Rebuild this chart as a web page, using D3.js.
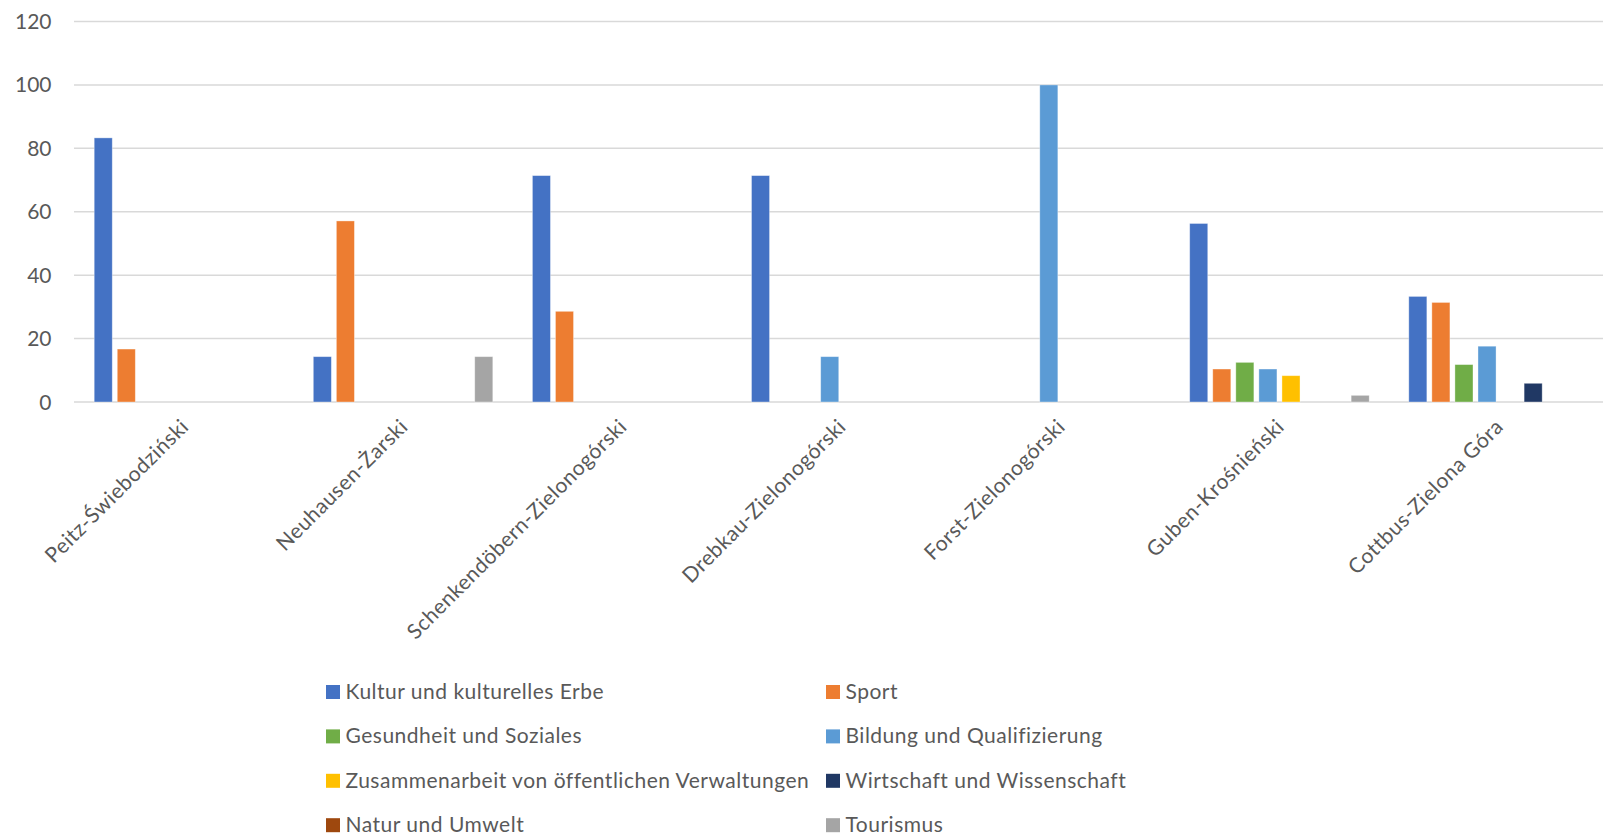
<!DOCTYPE html>
<html>
<head>
<meta charset="utf-8">
<script src="https://cdn.jsdelivr.net/npm/d3@7"></script>
<style>
  html, body { margin: 0; padding: 0; background: #ffffff; }
  svg { display: block; }
  text { font-family: Lato, "Open Sans", sans-serif; fill: #595959; }
</style>
</head>
<body>
<svg id="chart" width="1603" height="840"></svg>
<script>
// Partnership categories (x axis)
const categories = [
  "Peitz-Świebodziński",
  "Neuhausen-Żarski",
  "Schenkendöbern-Zielonogórski",
  "Drebkau-Zielonogórski",
  "Forst-Zielonogórski",
  "Guben-Krośnieński",
  "Cottbus-Zielona Góra"
];

// Share of projects per theme (%)
const kultur         = [83.3, 14.3, 71.4, 71.4, 0,   56.3, 33.3];
const sport          = [16.7, 57.1, 28.6, 0,    0,   10.4, 31.4];
const gesundheit     = [0,    0,    0,    0,    0,   12.5, 11.8];
const bildung        = [0,    0,    0,    14.3, 100, 10.4, 17.6];
const zusammenarbeit = [0,    0,    0,    0,    0,   8.3,  0];
const wirtschaft     = [0,    0,    0,    0,    0,   0,    5.9];
const natur          = [0,    0,    0,    0,    0,   0,    0];
const tourismus      = [0,    14.3, 0,    0,    0,   2.1,  0];

const seriesNames = [
  "Kultur und kulturelles Erbe",
  "Sport",
  "Gesundheit und Soziales",
  "Bildung und Qualifizierung",
  "Zusammenarbeit von öffentlichen Verwaltungen",
  "Wirtschaft und Wissenschaft",
  "Natur und Umwelt",
  "Tourismus"
];
const seriesValues = [kultur, sport, gesundheit, bildung, zusammenarbeit, wirtschaft, natur, tourismus];
const seriesColors = ["#4472C4", "#ED7D31", "#70AD47", "#5B9BD5", "#FFC000", "#203864", "#9E480E", "#A5A5A5"];

const yTicks = [0, 20, 40, 60, 80, 100, 120];

const svg = d3.select("#chart");

const plot = { left: 74.4, right: 1608.1, top: 21.5, bottom: 402 };
const fontSize = 21;
const spacing = 0.5;

const x = d3.scaleBand()
  .domain(categories)
  .range([plot.left, plot.right])
  .paddingInner(0)
  .paddingOuter(0);

const xs = d3.scaleBand()
  .domain(seriesNames)
  .range([0, x.bandwidth()])
  .paddingInner(0)
  .paddingOuter(0.75);

const y = d3.scaleLinear()
  .domain([0, 120])
  .range([plot.bottom, plot.top]);

// Gridlines
svg.append("g")
  .selectAll("line")
  .data(yTicks)
  .join("line")
  .attr("x1", 74)
  .attr("x2", 1603)
  .attr("y1", d => y(d))
  .attr("y2", d => y(d))
  .attr("stroke", "#d9d9d9")
  .attr("stroke-width", 1.5);

// Y tick labels
svg.append("g")
  .selectAll("text")
  .data(yTicks)
  .join("text")
  .attr("x", 51.5)
  .attr("y", d => y(d) + 7.5)
  .attr("text-anchor", "end")
  .attr("font-size", fontSize)
  .text(d => d);

// Bars
const gap = 5;
const rows = [];
seriesNames.forEach((s, si) => {
  categories.forEach((c, ci) => {
    rows.push({ series: s, cat: c, value: seriesValues[si][ci], color: seriesColors[si] });
  });
});

svg.append("g")
  .selectAll("rect")
  .data(rows.filter(d => d.value > 0))
  .join("rect")
  .attr("x", d => x(d.cat) + xs(d.series) + gap / 2)
  .attr("width", xs.bandwidth() - gap)
  .attr("y", d => y(d.value))
  .attr("height", d => y(0) - y(d.value))
  .attr("fill", d => d.color)
  .attr("stroke", "#ffffff")
  .attr("stroke-opacity", 0.45)
  .attr("stroke-width", 0.8);

// Category labels, rotated
svg.append("g")
  .selectAll("text")
  .data(categories)
  .join("text")
  .attr("text-anchor", "end")
  .attr("font-size", fontSize)
  .attr("letter-spacing", spacing)
  .attr("transform", d => `translate(${x(d) + x.bandwidth() / 2 + 6},${plot.bottom + 26}) rotate(-45)`)
  .text(d => d);

// Legend: two columns, four rows
const legend = svg.append("g")
  .selectAll("g")
  .data(seriesNames)
  .join("g")
  .attr("transform", (d, i) => `translate(${i % 2 === 0 ? 326 : 826},${699 + Math.floor(i / 2) * 44.4})`);

legend.append("rect")
  .attr("x", 0)
  .attr("y", -14)
  .attr("width", 14)
  .attr("height", 14)
  .attr("fill", (d, i) => seriesColors[i]);

legend.append("text")
  .attr("x", 19.5)
  .attr("y", 0)
  .attr("font-size", fontSize)
  .attr("letter-spacing", spacing)
  .text(d => d);
</script>
</body>
</html>
